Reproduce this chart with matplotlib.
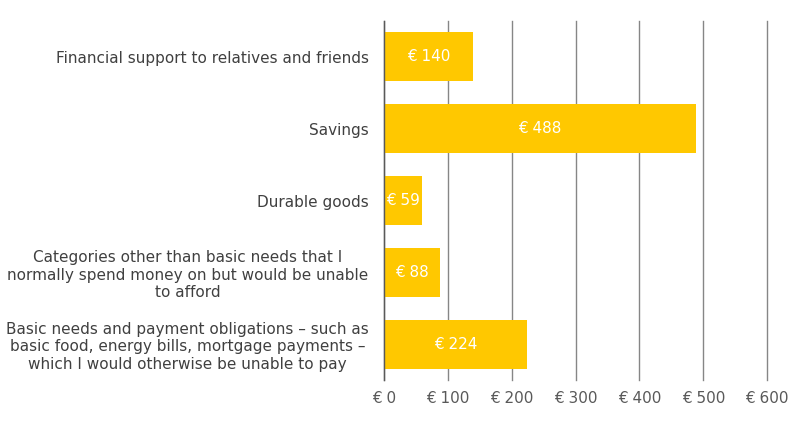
import matplotlib
matplotlib.use("Agg")
import matplotlib.pyplot as plt

# Categories, top to bottom as drawn
categories = [
    'Financial support to relatives and friends',
    'Savings',
    'Durable goods',
    'Categories other than basic needs that I\nnormally spend money on but would be unable\nto afford',
    'Basic needs and payment obligations \u2013 such as\nbasic food, energy bills, mortgage payments \u2013\nwhich I would otherwise be unable to pay',
]
amounts = [140, 488, 59, 88, 224]
x_ticks = [0, 100, 200, 300, 400, 500, 600]

BAR_COLOR = '#FFC800'
TEXT_COLOR = '#404040'
GRID_COLOR = '#868686'

plt.rcParams['font.family'] = ['DejaVu Sans']

fig = plt.figure(figsize=(8, 4.34), dpi=100)
ax = fig.add_axes([0.48, 0.1244, 0.479, 0.8272])

ypos = list(range(len(categories)))
ax.barh(ypos, amounts, height=0.68, color=BAR_COLOR, zorder=2)

for y, v in zip(ypos, amounts):
    ax.text(v / 2, y, f'\u20ac {v}', ha='center', va='center',
            color='white', fontsize=11, zorder=3)

ax.set_xlim(0, 600)
ax.set_ylim(len(categories) - 0.5, -0.5)
ax.set_xticks(x_ticks)
ax.set_xticklabels([f'\u20ac {t}' for t in x_ticks], color='#595959', fontsize=11)
ax.set_yticks(ypos)
ax.set_yticklabels(categories, fontsize=11, color=TEXT_COLOR, multialignment='center')

ax.tick_params(axis='both', length=0)
ax.tick_params(axis='x', pad=8)
ax.tick_params(axis='y', pad=11)
ax.grid(axis='x', color=GRID_COLOR, linewidth=1, zorder=0)
for gl in ax.get_xgridlines():
    gl.set_clip_on(False)
ax.set_axisbelow(True)
for s in ['top', 'right', 'bottom']:
    ax.spines[s].set_visible(False)
ax.spines['left'].set_color('#595959')
ax.spines['left'].set_linewidth(1)

fig.savefig('out.png', dpi=100, facecolor='white')
